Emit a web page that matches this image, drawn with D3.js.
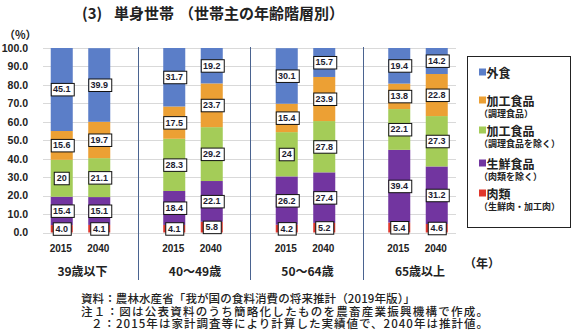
<!DOCTYPE html>
<html>
<head>
<meta charset="utf-8">
<script src="https://cdn.jsdelivr.net/npm/d3@7"></script>
<style>
  body { margin: 0; background: #fff; }
  svg { display: block; font-family: "Noto Sans CJK JP", sans-serif; }
  .num { font-family: "Liberation Sans", Arial, sans-serif; font-weight: bold; }
</style>
</head>
<body>
<script>
// age groups and years
const groups = ["39歳以下", "40～49歳", "50～64歳", "65歳以上"];
const years = ["2015", "2040"];

// shares (%) in order: 39以下 2015, 2040, 40-49 2015, 2040, ...
const meat           = [4.0, 4.1, 4.1, 5.8, 4.2, 5.2, 5.4, 4.6];
const fresh          = [15.4, 15.1, 18.4, 22.1, 26.2, 27.4, 39.4, 31.2];
const processedOther = [20, 21.1, 28.3, 29.2, 24, 27.8, 22.1, 27.3];
const cooked         = [15.6, 19.7, 17.5, 23.7, 15.4, 23.9, 13.8, 22.8];
const eatingOut      = [45.1, 39.9, 31.7, 19.2, 30.1, 15.7, 19.4, 14.2];

const yTicks = [0, 10, 20, 30, 40, 50, 60, 70, 80, 90, 100];

// stacking order bottom -> top
const keys = ["meat", "fresh", "processedOther", "cooked", "eatingOut"];
const colors = ["#e0372c", "#7235a0", "#a4cc58", "#eca034", "#5b7ec8"];

// legend top -> bottom
const legendItems = [
  {key: "eatingOut", name: "外食", sub: ""},
  {key: "cooked", name: "加工食品", sub: "（調理食品）"},
  {key: "processedOther", name: "加工食品", sub: "（調理食品を除く）"},
  {key: "fresh", name: "生鮮食品", sub: "（肉類を除く）"},
  {key: "meat", name: "肉類", sub: "（生鮮肉・加工肉）"}
];

const rows = [];
groups.forEach((g, gi) => years.forEach((yr, yi) => {
  const i = gi * 2 + yi;
  rows.push({group: g, year: yr, meat: meat[i], fresh: fresh[i],
    processedOther: processedOther[i], cooked: cooked[i], eatingOut: eatingOut[i]});
}));

const width = 572, height = 333;

const x0 = d3.scaleBand().domain(groups).range([43, 493]);
const x1 = d3.scaleBand().domain(years).range([0, 75])
    .paddingInner(0.413).paddingOuter(0.2065);
const y = d3.scaleLinear().domain([0, 100]).range([232.5, 48]);
const color = d3.scaleOrdinal().domain(keys).range(colors);

const svg = d3.select("body").append("svg")
    .attr("width", width).attr("height", height)
    .attr("viewBox", [0, 0, width, height]);

// title
const title = svg.append("text")
    .attr("y", 12).attr("dominant-baseline", "central")
    .attr("font-size", 15).attr("font-weight", "bold").attr("fill", "#222");
title.append("tspan").attr("x", 82).text("(3)");
title.append("tspan").attr("x", 114).text("単身世帯");
title.append("tspan").attr("x", 179).text("（世帯主の年齢階層別）");

svg.append("text")
    .attr("x", 4).attr("y", 34).attr("dominant-baseline", "central")
    .attr("font-size", 11).attr("font-weight", "bold").attr("fill", "#222")
    .text("（%）");

// grid
svg.append("g")
    .attr("stroke", "#d9d9d9")
  .selectAll("line")
  .data(yTicks)
  .join("line")
    .attr("x1", 43).attr("x2", 456)
    .attr("y1", d => Math.round(y(d)) + 0.5)
    .attr("y2", d => Math.round(y(d)) + 0.5);

// y axis labels
const gy = svg.append("g")
    .attr("transform", "translate(28,0)")
    .call(d3.axisLeft(y).tickValues(yTicks).tickFormat(d3.format(".1f")).tickSize(0).tickPadding(0))
    .call(g => g.select(".domain").remove());
gy.selectAll("text")
    .attr("class", "num").attr("font-size", 10.5).attr("fill", "#222");

// separators
svg.append("g")
    .attr("stroke", "#4a6390")
  .selectAll("line")
  .data(groups.slice(0, -1))
  .join("line")
    .attr("x1", d => Math.round(x0(d) + 94.5) + 0.5)
    .attr("x2", d => Math.round(x0(d) + 94.5) + 0.5)
    .attr("y1", 47).attr("y2", 280);

// bars
const stacked = d3.stack().keys(keys)(rows);
const barX = d => x0(d.data.group) + x1(d.data.year);

svg.append("g")
  .selectAll("g")
  .data(stacked)
  .join("g")
    .attr("fill", s => color(s.key))
  .selectAll("rect")
  .data(s => s)
  .join("rect")
    .attr("x", barX)
    .attr("y", d => y(Math.min(d[1], 100)))
    .attr("height", d => y(d[0]) - y(Math.min(d[1], 100)))
    .attr("width", x1.bandwidth());

// value labels
const fmt = v => (Number.isInteger(v) && v >= 10) ? String(v) : v.toFixed(1);
const labels = svg.append("g")
  .selectAll("g")
  .data(stacked.flatMap(s => s.map(d => ({d, v: d.data[s.key]}))))
  .join("g")
    .attr("transform", ({d}) =>
      `translate(${barX(d) + x1.bandwidth() / 2},${Math.min(y((d[0] + d[1]) / 2), 231)})`);

labels.append("text")
    .attr("class", "num")
    .attr("font-size", 9).attr("fill", "#1c1c30")
    .attr("text-anchor", "middle").attr("dominant-baseline", "central")
    .text(({v}) => fmt(v));

labels.each(function() {
  const g = d3.select(this);
  const b = g.select("text").node().getBBox();
  g.insert("rect", "text")
      .attr("x", Math.round(b.x - 2.5) + 0.5)
      .attr("y", -6)
      .attr("width", Math.round(b.width + 5))
      .attr("height", 12.5)
      .attr("fill", "#fff").attr("stroke", "#111").attr("stroke-width", 1);
});

// year labels
svg.append("g")
  .selectAll("text")
  .data(rows)
  .join("text")
    .attr("class", "num")
    .attr("font-size", 10).attr("fill", "#222")
    .attr("text-anchor", "middle").attr("dominant-baseline", "central")
    .attr("x", d => x0(d.group) + x1(d.year) + x1.bandwidth() / 2 - 1)
    .attr("y", 248)
    .text(d => d.year);

// group labels
svg.append("g")
  .selectAll("text")
  .data(groups)
  .join("text")
    .attr("font-size", 12).attr("font-weight", "bold").attr("fill", "#222")
    .attr("text-anchor", "middle").attr("dominant-baseline", "central")
    .attr("x", d => x0(d) + 37.5 + 2)
    .attr("y", 270)
    .text(d => d);

svg.append("text")
    .attr("x", 464).attr("y", 262).attr("dominant-baseline", "central")
    .attr("font-size", 12).attr("font-weight", "bold").attr("fill", "#222")
    .text("（年）");

// legend
svg.append("rect")
    .attr("x", 467.5).attr("y", 56.5).attr("width", 103).attr("height", 171)
    .attr("fill", "#fff").attr("stroke", "#222");

const legendY = [72, 100, 130, 163, 193];
const lg = svg.append("g")
  .selectAll("g")
  .data(legendItems)
  .join("g")
    .attr("transform", (d, i) => `translate(479,${legendY[i]})`);

lg.append("rect")
    .attr("x", 0).attr("y", -3.5).attr("width", 7).attr("height", 7)
    .attr("fill", d => color(d.key));
lg.append("text")
    .attr("x", 7.5).attr("dominant-baseline", "central")
    .attr("font-size", 12).attr("font-weight", "bold").attr("fill", "#222")
    .text(d => d.name);
lg.append("text")
    .attr("x", 0).attr("y", 13).attr("dominant-baseline", "central")
    .attr("font-size", 9).attr("font-weight", "bold").attr("fill", "#222")
    .text(d => d.sub);

// notes
const notes = [
  {x: 81, len: 334, text: "資料：農林水産省「我が国の食料消費の将来推計（2019年版）」"},
  {x: 81, len: 407, text: "注１：図は公表資料のうち簡略化したものを農畜産業振興機構で作成。"},
  {x: 91, len: 397, text: "２：2015年は家計調査等により計算した実績値で、2040年は推計値。"}
];
svg.append("g")
  .selectAll("text")
  .data(notes)
  .join("text")
    .attr("x", d => d.x)
    .attr("y", (d, i) => 298 + i * 12.5)
    .attr("dominant-baseline", "central")
    .attr("textLength", d => d.len).attr("lengthAdjust", "spacing")
    .attr("font-size", 11.5).attr("font-weight", 500).attr("fill", "#222")
    .text(d => d.text);
</script>
</body>
</html>
